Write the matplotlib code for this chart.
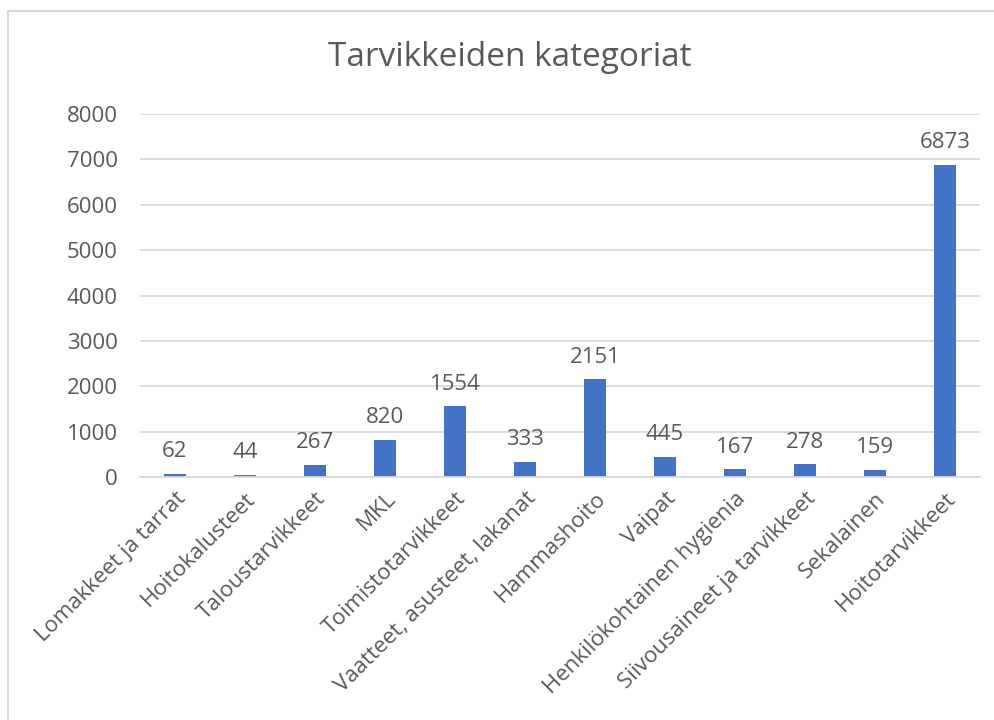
import matplotlib.pyplot as plt
from matplotlib.patches import Rectangle

categories = [
    "Lomakkeet ja tarrat", "Hoitokalusteet", "Taloustarvikkeet", "MKL",
    "Toimistotarvikkeet", "Vaatteet, asusteet, lakanat", "Hammashoito",
    "Vaipat", "Henkilökohtainen hygienia", "Siivousaineet ja tarvikkeet",
    "Sekalainen", "Hoitotarvikkeet",
]
values = [62, 44, 267, 820, 1554, 333, 2151, 445, 167, 278, 159, 6873]
yticks = [0, 1000, 2000, 3000, 4000, 5000, 6000, 7000, 8000]

text_color = "#595959"
grid_color = "#D9D9D9"
bar_color = "#4472C4"

plt.rcParams['font.family'] = ['Open Sans', 'DejaVu Sans']

fig = plt.figure(figsize=(9.95, 7.2), dpi=100)
ax = fig.add_axes([140 / 995, 1 - 477 / 720, 840 / 995, 363 / 720])

# outer chart border (only top and left visible in the crop)
fig.patches.append(Rectangle((8 / 995, -0.1), 1.2, 1 - 11 / 720 + 0.1,
                             transform=fig.transFigure, fill=False,
                             edgecolor=grid_color, linewidth=1.5))

x = range(len(categories))
bars = ax.bar(x, values, width=0.31, color=bar_color, zorder=3)

for xi, v in zip(x, values):
    ax.annotate(str(v), (xi, v), xytext=(0, 8.5), textcoords="offset points",
                ha="center", va="bottom", fontsize=16, color=text_color)

ax.set_xlim(-0.5, len(categories) - 0.5)
ax.set_ylim(0, 8000)
ax.set_yticks(yticks)
ax.set_yticklabels([str(t) for t in yticks])
ax.set_xticks(list(x))
ax.set_xticklabels(categories, rotation=45, ha="right", rotation_mode="anchor")

ax.tick_params(axis="both", length=0, labelsize=16, labelcolor=text_color)
ax.tick_params(axis="y", pad=16)
ax.tick_params(axis="x", pad=8)
ax.grid(axis="y", color=grid_color, linewidth=1.3, zorder=0)
for side in ["top", "right", "left"]:
    ax.spines[side].set_visible(False)
ax.spines["bottom"].set_color(grid_color)
ax.spines["bottom"].set_linewidth(1.3)
ax.spines["bottom"].set_zorder(4)

fig.text(510 / 995, 1 - 58 / 720, "Tarvikkeiden kategoriat", ha="center",
         va="center", fontsize=24, color=text_color)

fig.savefig("out.png", dpi=100)
